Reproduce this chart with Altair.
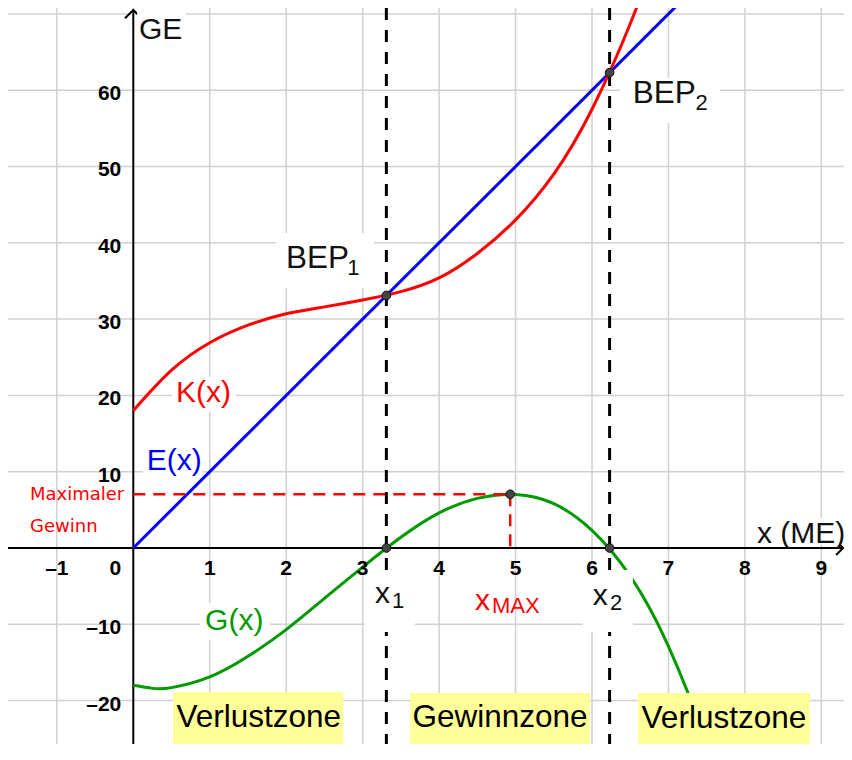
import altair as alt
import pandas as pd

# ---------------- data ----------------
X_MIN, X_MAX = -1.639, 9.296
Y_MIN, Y_MAX = -25.69, 70.77

# G(x) profit curve
x_G = [0, 0.25, 0.5, 1, 1.5, 2, 2.5, 3, 3.5, 4, 4.5, 5, 5.5, 6, 6.5, 7, 7.5, 7.8]
G_vals = [-18.0, -18.4, -18.3, -16.9, -14.2, -10.7, -6.6, -2.5, 1.4, 4.6, 6.5, 7.0, 5.8, 2.3, -3.7, -12.9, -25.6, -35.0]
# K(x) cost curve
x_K = [0, 0.5, 1, 1.5, 2, 2.5, 3, 3.5, 4, 4.5, 5, 5.5, 6, 6.5, 6.8]
K_vals = [18.0, 23.3, 26.9, 29.2, 30.7, 31.6, 32.5, 33.6, 35.4, 38.6, 43.0, 49.0, 57.5, 68.7, 76.9]
# E(x) revenue line
x_E = [0, 7.5]
E_vals = [0, 75]

grid_x = list(range(-1, 10))
grid_y = list(range(-20, 80, 10))

x_tick_vals = [-1, 1, 2, 3, 4, 5, 6, 7, 8, 9]
x_tick_text = ["–1", "1", "2", "3", "4", "5", "6", "7", "8", "9"]
y_tick_vals = [-20, -10, 10, 20, 30, 40, 50, 60]
y_tick_text = ["–20", "–10", "10", "20", "30", "40", "50", "60"]

bep_x = [3.31, 6.23]
bep_y = [33.1, 62.3]
max_x = 4.93
max_g = 7.04

# annotation anchors (data units)
main_labels = pd.DataFrame({
    "x": [0.075, 8.158, 3.161, 6.011],
    "y": [66.71, 0.69, -7.21, -7.47],
    "t": ["GE", "x (ME)", "x", "x"],
})
bep_labels = pd.DataFrame({
    "x": [1.997, 6.532],
    "y": [36.70, 58.28],
    "t": ["BEP", "BEP"],
})
sub_labels = pd.DataFrame({
    "x": [2.80, 7.355, 3.384, 6.236],
    "y": [35.78, 57.40, -7.86, -8.13],
    "t": ["1", "2", "1", "2"],
})
curve_labels = pd.DataFrame({
    "x": [0.559, 0.176, 0.939],
    "y": [19.17, 10.22, -10.75],
    "t": ["K(x)", "E(x)", "G(x)"],
    "c": ["K", "E", "G"],
})
label_bg = pd.DataFrame({
    "x": [3.028, 5.88, 1.87, 6.364, 0.05, 0.507, 0.127, 0.872, 8.09],
    "x2": [3.682, 6.535, 3.149, 7.672, 0.69, 1.344, 0.90, 1.788, 9.30],
    "y": [-2.88, -2.88, 41.28, 61.6, 70.2, 22.4, 14.15, -7.2, 3.93],
    "y2": [-11.01, -11.01, 34.08, 55.7, 66.2, 17.8, 9.6, -12.06, 0.4],
})
zones = pd.DataFrame({
    "x": [0.52, 3.619, 6.60],
    "x2": [2.747, 5.974, 8.85],
    "y": [-18.87, -19.0, -19.0],
    "y2": [Y_MIN, Y_MIN, Y_MIN],
    "xc": [1.64, 4.797, 7.725],
    "yc": [-23.5, -23.5, -23.6],
    "t": ["Verlustzone", "Gewinnzone", "Verlustzone"],
})

# ---------------- chart ----------------
xs = alt.Scale(domain=[X_MIN, X_MAX], nice=False, zero=False)
ys = alt.Scale(domain=[Y_MIN, Y_MAX], nice=False, zero=False)


def X(f):
    return alt.X(f, type="quantitative", scale=xs, axis=None)


def Y(f):
    return alt.Y(f, type="quantitative", scale=ys, axis=None)


LBL = "Liberation Sans"

gx = alt.Chart(pd.DataFrame({"g": grid_x})).mark_rule(color="#d0d0d0", strokeWidth=1.5).encode(x=X("g"))
gy = alt.Chart(pd.DataFrame({"g": grid_y})).mark_rule(color="#d0d0d0", strokeWidth=1.5).encode(y=Y("g"))

axis_x = alt.Chart(pd.DataFrame({"a": [X_MIN], "b": [9.27], "y": [0]})).mark_rule(
    color="black", strokeWidth=2).encode(x=X("a"), x2="b", y=Y("y"))
axis_y = alt.Chart(pd.DataFrame({"x": [0], "a": [Y_MIN], "b": [70.4]})).mark_rule(
    color="black", strokeWidth=2).encode(x=X("x"), y=Y("a"), y2="b")
arrow_y = alt.Chart(pd.DataFrame({"x": [0], "y": [70.51]})).mark_point(
    shape="M -1 1 L 0 0 L 1 1", filled=False, size=275, strokeWidth=2, color="black", opacity=1
).encode(x=X("x"), y=Y("y"))
arrow_x = alt.Chart(pd.DataFrame({"x": [9.285], "y": [0]})).mark_point(
    shape="M -1 -1 L 0 0 L -1 1", filled=False, size=200, strokeWidth=2, color="black", opacity=1
).encode(x=X("x"), y=Y("y"))

line_E = alt.Chart(pd.DataFrame({"x": x_E, "v": E_vals})).mark_line(
    color="#0000ff", strokeWidth=3, clip=True).encode(x=X("x"), y=Y("v"))
line_K = alt.Chart(pd.DataFrame({"x": x_K, "v": K_vals})).mark_line(
    color="#ff0000", strokeWidth=3, clip=True, interpolate="natural").encode(x=X("x"), y=Y("v"))
line_G = alt.Chart(pd.DataFrame({"x": x_G, "v": G_vals})).mark_line(
    color="#009900", strokeWidth=3, clip=True, interpolate="natural").encode(x=X("x"), y=Y("v"))

dash_black = alt.Chart(pd.DataFrame({"x": bep_x})).mark_rule(
    color="black", strokeWidth=3, strokeDash=[12, 10]).encode(x=X("x"))
dash_red_h = alt.Chart(pd.DataFrame({"a": [0], "b": [max_x], "y": [max_g]})).mark_rule(
    color="#ff0000", strokeWidth=2.5, strokeDash=[12, 8]).encode(x=X("a"), x2="b", y=Y("y"))
dash_red_v = alt.Chart(pd.DataFrame({"x": [max_x], "a": [max_g], "b": [0]})).mark_rule(
    color="#ff0000", strokeWidth=2.5, strokeDash=[12, 8]).encode(x=X("x"), y=Y("a"), y2="b")

dots = alt.Chart(pd.DataFrame({
    "x": bep_x + bep_x + [max_x],
    "y": bep_y + [0, 0] + [max_g],
})).mark_point(filled=True, size=75, color="#444444", stroke="#111111", strokeWidth=1, opacity=1).encode(
    x=X("x"), y=Y("y"))

bgs = alt.Chart(label_bg).mark_rect(color="white").encode(x=X("x"), x2="x2", y=Y("y"), y2="y2")

zone_box = alt.Chart(zones).mark_rect(color="#ffff99").encode(x=X("x"), x2="x2", y=Y("y"), y2="y2")
zone_txt = alt.Chart(zones).mark_text(font=LBL, fontSize=31.5, color="black", align="center",
                                      baseline="alphabetic").encode(x=X("xc"), y=Y("yc"), text="t")

t_main = alt.Chart(main_labels).mark_text(font=LBL, fontSize=30, color="#111111", align="left",
                                          baseline="alphabetic").encode(x=X("x"), y=Y("y"), text="t")
t_bep = alt.Chart(bep_labels).mark_text(font=LBL, fontSize=31.5, color="#111111", align="left",
                                        baseline="alphabetic").encode(x=X("x"), y=Y("y"), text="t")
t_sub = alt.Chart(sub_labels).mark_text(font=LBL, fontSize=22, color="#111111", align="left",
                                        baseline="alphabetic").encode(x=X("x"), y=Y("y"), text="t")
t_curve = alt.Chart(curve_labels).mark_text(font=LBL, fontSize=30, align="left",
                                            baseline="alphabetic").encode(
    x=X("x"), y=Y("y"), text="t",
    color=alt.Color("c:N", scale=alt.Scale(domain=["K", "E", "G"], range=["#ff0000", "#0000ff", "#009900"]),
                    legend=None))

t_xmax = alt.Chart(pd.DataFrame({"x": [4.47], "y": [-8.13], "t": ["x"]})).mark_text(
    font=LBL, fontSize=30, color="#ff0000", align="left", baseline="alphabetic").encode(x=X("x"), y=Y("y"), text="t")
t_xmax_sub = alt.Chart(pd.DataFrame({"x": [4.692], "y": [-8.52], "t": ["MAX"]})).mark_text(
    font=LBL, fontSize=22, color="#ff0000", align="left", baseline="alphabetic").encode(x=X("x"), y=Y("y"), text="t")
t_maxg = alt.Chart(pd.DataFrame({"x": [-1.351, -1.351], "y": [6.29, 2.14], "t": ["Maximaler", "Gewinn"]})).mark_text(
    font="DejaVu Sans", fontSize=18, color="#ff0000", align="left", baseline="alphabetic").encode(
    x=X("x"), y=Y("y"), text="t")

xt = alt.Chart(pd.DataFrame({"v": x_tick_vals, "t": x_tick_text, "z": [0] * len(x_tick_vals)})).mark_text(
    font=LBL, fontSize=21, fontWeight="bold", color="black", align="center", baseline="alphabetic", dy=27
).encode(x=X("v"), y=Y("z"), text="t")
xt0 = alt.Chart(pd.DataFrame({"v": [0], "t": ["0"]})).mark_text(
    font=LBL, fontSize=21, fontWeight="bold", color="black", align="center", baseline="alphabetic", dy=27, dx=-18
).encode(x=X("v"), y=Y("v"), text="t")
yt = alt.Chart(pd.DataFrame({"v": y_tick_vals, "t": y_tick_text, "z": [0] * len(y_tick_vals)})).mark_text(
    font=LBL, fontSize=21, fontWeight="bold", color="black", align="right", baseline="alphabetic", dy=10, dx=-12
).encode(x=X("z"), y=Y("v"), text="t")

chart = alt.layer(
    gx, gy, axis_x, axis_y, arrow_y, arrow_x,
    line_E, line_K, line_G,
    dash_black, dash_red_h, dash_red_v,
    bgs, zone_box, dots,
    xt, xt0, yt,
    t_main, t_bep, t_sub, t_curve, t_xmax, t_xmax_sub, t_maxg, zone_txt,
).properties(
    width=836, height=736, padding=0, autosize=alt.AutoSizeParams(type="none"),
    background="white",
).configure_view(stroke=None)

chart.save("out.html", embed_options={"renderer": "svg", "actions": False})
